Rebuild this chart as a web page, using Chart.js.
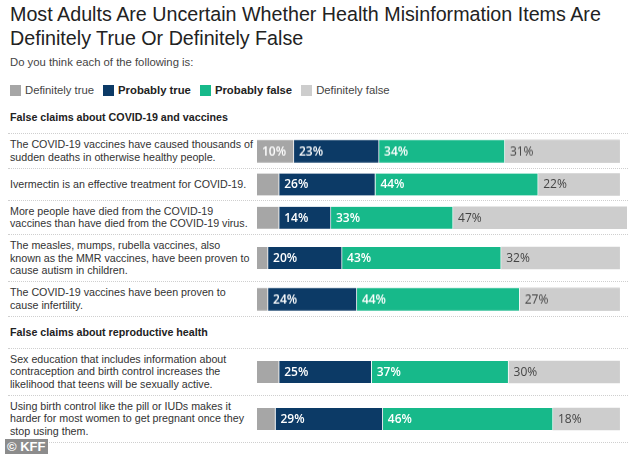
<!DOCTYPE html>
<html>
<head>
<meta charset="utf-8">
<script src="https://cdn.jsdelivr.net/npm/chart.js@4.4.0/dist/chart.umd.min.js"></script>
<style>
  body { margin: 0; width: 634px; height: 454px; overflow: hidden; background: #fff;
         font-family: "Liberation Sans", Arial, sans-serif; color: #333; position: relative; }
  #title { position: absolute; left: 10px; top: 2px; font-size: 19.7px; line-height: 24px; color: #222; }
  #sub { position: absolute; left: 10px; top: 55px; font-size: 11.3px; line-height: 14px; color: #444; }
  #legend { position: absolute; left: 10px; top: 83px; font-size: 11.3px; line-height: 14px;
            display: flex; align-items: center; color: #444; }
  .lg { display: flex; align-items: center; margin-right: 9px; }
  .lg i { width: 11px; height: 11px; display: inline-block; margin-right: 4px; }
  .lg.b { font-weight: bold; color: #222; }
  #rows { position: absolute; left: 8px; top: 102px; width: 620px; }
  .hdr { height: 31px; line-height: 31px; padding-left: 2px; font-size: 10.7px; font-weight: bold;
         color: #222; border-bottom: 1px dotted #cfcfcf; white-space: nowrap; }
  .row { display: flex; border-bottom: 1px dotted #cfcfcf; }
  .lab { width: 249px; box-sizing: border-box; padding: 4px 0 4.5px 2px; font-size: 10.7px;
         line-height: 12.5px; align-self: center; white-space: nowrap; }
  .bar { position: relative; width: 370px; min-height: 31px; }
  .bar div { position: absolute; left: 0; top: 0; right: 0; bottom: 0; }
  #kff { position: absolute; left: 5px; top: 439px; width: 43px; height: 15px; background: #8c8c8c;
         color: #fff; font-weight: bold; font-size: 13px; line-height: 15px; padding-left: 2px; box-sizing: border-box; }
</style>
</head>
<body>
<div id="title">Most Adults Are Uncertain Whether Health Misinformation Items Are<br>Definitely True Or Definitely False</div>
<div id="sub">Do you think each of the following is:</div>
<div id="legend"></div>
<div id="rows"></div>
<div id="kff">© KFF</div>
<script>
const seriesNames = ["Definitely true", "Probably true", "Probably false", "Definitely false"];
const seriesColors = ["#a6a6a6", "#0c3a66", "#17b98a", "#cdcdcd"];

const groups = ["False claims about COVID-19 and vaccines", "False claims about reproductive health"];
const groupOf = [0, 0, 0, 0, 0, 1, 1];

const claims = [
  ["The COVID-19 vaccines have caused thousands of", "sudden deaths in otherwise healthy people."],
  ["Ivermectin is an effective treatment for COVID-19."],
  ["More people have died from the COVID-19", "vaccines than have died from the COVID-19 virus."],
  ["The measles, mumps, rubella vaccines, also", "known as the MMR vaccines, have been proven to", "cause autism in children."],
  ["The COVID-19 vaccines have been proven to", "cause infertility."],
  ["Sex education that includes information about", "contraception and birth control increases the", "likelihood that teens will be sexually active."],
  ["Using birth control like the pill or IUDs makes it", "harder for most women to get pregnant once they", "stop using them."]
];

const definitelyTrue  = [10, 6, 6, 3, 3, 6, 5];
const probablyTrue    = [23, 26, 14, 20, 24, 25, 29];
const probablyFalse   = [34, 44, 33, 43, 44, 37, 46];
const definitelyFalse = [31, 22, 47, 32, 27, 30, 18];

const series = [definitelyTrue, probablyTrue, probablyFalse, definitelyFalse];

// legend
const legendEl = document.getElementById("legend");
seriesNames.forEach((n, k) => {
  const d = document.createElement("span");
  d.className = "lg" + (k === 1 || k === 2 ? " b" : "");
  d.innerHTML = '<i style="background:' + seriesColors[k] + '"></i>' + n;
  legendEl.appendChild(d);
});

// value labels inside segments
const valueLabels = {
  id: "valueLabels",
  afterDatasetsDraw(chart) {
    const ctx = chart.ctx;
    ctx.save();
    ctx.textBaseline = "middle";
    ctx.textAlign = "left";
    chart.data.datasets.forEach((ds, k) => {
      const meta = chart.getDatasetMeta(k);
      meta.data.forEach((el, j) => {
        const v = ds.data[j];
        if (v < 8) return;
        const dark = k === 3;
        ctx.fillStyle = dark ? "#444" : "#fff";
        ctx.font = (dark ? "400" : "600") + " 12px 'Open Sans', sans-serif";
        ctx.fillText(v + "%", Math.min(el.x, el.base) + 5, el.y + 0.5);
      });
    });
    ctx.restore();
  }
};

const rowsEl = document.getElementById("rows");
let lastGroup = -1;
claims.forEach((lines, i) => {
  if (groupOf[i] !== lastGroup) {
    lastGroup = groupOf[i];
    const h = document.createElement("div");
    h.className = "hdr";
    h.textContent = groups[lastGroup];
    rowsEl.appendChild(h);
  }
  const row = document.createElement("div");
  row.className = "row";
  const lab = document.createElement("div");
  lab.className = "lab";
  lab.innerHTML = lines.join("<br>");
  const box = document.createElement("div");
  box.className = "bar";
  const holder = document.createElement("div");
  const canv = document.createElement("canvas");
  holder.appendChild(canv);
  box.appendChild(holder);
  row.appendChild(lab);
  row.appendChild(box);
  rowsEl.appendChild(row);

  new Chart(canv, {
    type: "bar",
    data: {
      labels: [lines.join(" ")],
      datasets: series.map((s, k) => ({
        label: seriesNames[k],
        data: [s[i]],
        backgroundColor: seriesColors[k],
        borderColor: "rgba(255,255,255,0.75)",
        borderWidth: { top: 0, bottom: 0, left: 0, right: k < 3 ? 1 : 0 },
        borderSkipped: false,
        barThickness: 22
      }))
    },
    options: {
      indexAxis: "y",
      responsive: true,
      maintainAspectRatio: false,
      animation: false,
      layout: { padding: 0 },
      scales: {
        x: { stacked: true, min: 0, max: 100, display: false },
        y: { stacked: true, display: false }
      },
      plugins: { legend: { display: false }, tooltip: { enabled: false } }
    },
    plugins: [valueLabels]
  });
});
</script>
</body>
</html>
